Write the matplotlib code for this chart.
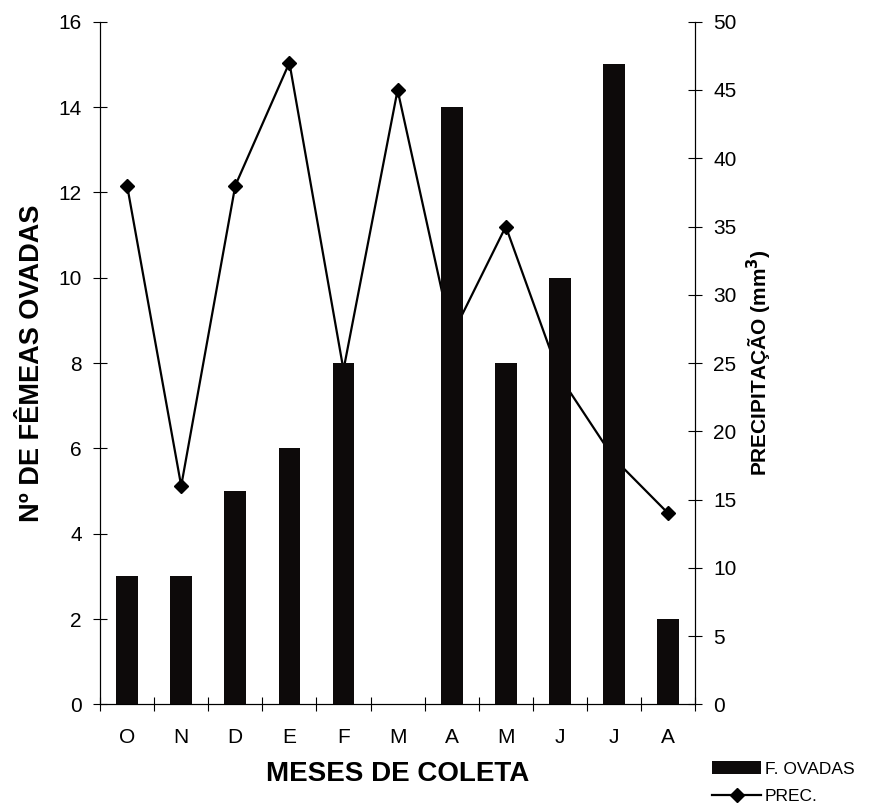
import numpy as np
import matplotlib.pyplot as plt

plt.rcParams['font.family'] = ['Liberation Sans', 'DejaVu Sans']

# data
meses = ['O', 'N', 'D', 'E', 'F', 'M', 'A', 'M', 'J', 'J', 'A']
femeas = [3, 3, 5, 6, 8, 0, 14, 8, 10, 15, 2]
prec = [38, 16, 38, 47, 24.5, 45, 27, 35, 24, 18, 14]

fig = plt.figure(figsize=(8.7, 8.05), dpi=100)
ax = fig.add_axes([0.115, 0.125, 0.684, 0.848])
ax2 = ax.twinx()

x = np.arange(len(meses))
bars = ax.bar(x, femeas, width=0.4, color='#0d0a0a', label='F. OVADAS')
ln, = ax2.plot(x, prec, color='black', lw=1.6, marker='D', ms=7, label='PREC.')

# bars sit on top of the line
ax.set_zorder(ax2.get_zorder() + 1)
ax.patch.set_visible(False)

ax.set_xlim(-0.5, len(meses) - 0.5)
ax.set_ylim(0, 16)
ax2.set_ylim(0, 50)
ax.set_yticks(range(0, 17, 2))
ax2.set_yticks(range(0, 51, 5))
ax.set_xticks(x)
ax.set_xticklabels(meses)
ax.set_xticks(np.arange(-0.5, len(meses), 1), minor=True)

for a in (ax, ax2):
    a.spines['top'].set_visible(False)
    for s in a.spines.values():
        s.set_linewidth(0.8)
ax.tick_params(axis='x', which='major', length=0, labelsize=15, pad=17)
ax.tick_params(axis='x', which='minor', direction='inout', length=10, width=0.8)
ax.tick_params(axis='y', direction='inout', length=10, width=0.8, labelsize=15, pad=8)
ax2.tick_params(axis='y', direction='inout', length=10, width=0.8, labelsize=15, pad=8)

ax.set_ylabel('Nº DE FÊMEAS OVADAS', fontsize=19.5, fontweight='bold', labelpad=10)
ax.set_xlabel('MESES DE COLETA', fontsize=20, fontweight='bold', labelpad=10)
ax2.set_ylabel('PRECIPITAÇÃO (mm$^\\mathbf{3}$)', fontsize=15, fontweight='bold', labelpad=6)

fig.legend([bars, ln], ['F. OVADAS', 'PREC.'], loc='lower left',
           bbox_to_anchor=(0.801, -0.018), frameon=False, fontsize=12.5,
           handlelength=2.8, handletextpad=0.2, labelspacing=0.7)

fig.savefig('out.png', dpi=100)
